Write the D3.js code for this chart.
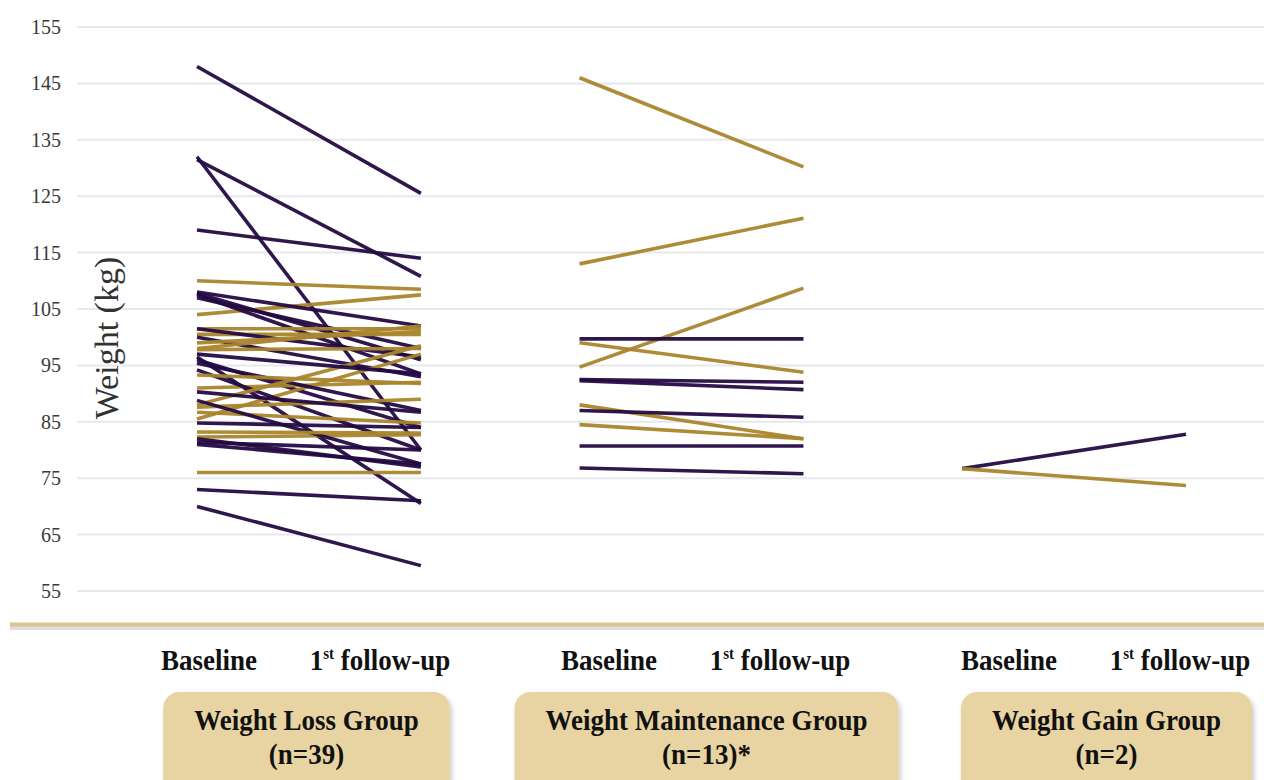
<!DOCTYPE html>
<html>
<head>
<meta charset="utf-8">
<script src="https://cdn.jsdelivr.net/npm/d3@7/dist/d3.min.js"></script>
<style>
  html, body { margin: 0; padding: 0; background: #ffffff; }
  svg { display: block; }
</style>
</head>
<body>
<svg id="chart" width="1264" height="780"></svg>
<script>
// ---------------- DATA ----------------
const groups = ["Weight Loss Group", "Weight Maintenance Group", "Weight Gain Group"];
const groupN = ["(n=39)", "(n=13)*", "(n=2)"];
const timepoints = ["Baseline", "1st follow-up"];
const yTicks = [55, 65, 75, 85, 95, 105, 115, 125, 135, 145, 155];

// Weight Loss Group: baseline, follow-up, colour class (A = purple, B = gold)
const lossBaseline = [148, 131.5, 132, 119, 110, 104, 108, 107.8, 107.5, 107, 101.5, 100.5, 101.5, 100, 98, 97.8, 96.5, 96, 85.5, 91, 95.4, 94.2, 88, 87.6, 90.3, 86.7, 84.8, 82.3, 81.4, 81, 82, 76, 73, 70, 93.3, 99, 97, 88.8, 83.2];
const lossFollowup = [125.5, 110.8, 80, 114, 108.5, 107.5, 102, 96, 93.5, 98, 101.5, 100.5, 96.5, 93, 102, 98, 70.5, 84, 97, 92, 87, 80, 98.5, 89, 86.7, 84.8, 84, 82.7, 80, 77.5, 77, 76, 71, 59.5, 91.8, 101, 93.5, 77.5, 83];
const lossClass    = ["A","A","A","A","B","B","A","A","A","A","B","B","A","A","B","B","A","A","B","B","A","A","B","B","A","B","A","B","A","A","A","B","A","A","B","B","A","A","B"];

// Weight Maintenance Group
const maintBaseline = [146, 113, 94.7, 99.7, 99, 92.5, 92.3, 88, 87, 84.5, 80.7, 76.8];
const maintFollowup = [130.2, 121.1, 108.7, 99.7, 93.8, 92, 90.7, 82, 85.8, 82, 80.7, 75.8];
const maintClass    = ["B","B","B","A","B","A","A","B","A","B","A","A"];

// Weight Gain Group
const gainBaseline = [76.7, 76.7];
const gainFollowup = [82.8, 73.7];
const gainClass    = ["A","B"];

// ---------------- BUILD ----------------
const series = [
  {group: groups[0], base: lossBaseline, fu: lossFollowup, cls: lossClass},
  {group: groups[1], base: maintBaseline, fu: maintFollowup, cls: maintClass},
  {group: groups[2], base: gainBaseline, fu: gainFollowup, cls: gainClass}
];
const lines = [];
series.forEach(s => s.base.forEach((b, i) => lines.push({group: s.group, v: [b, s.fu[i]], cls: s.cls[i]})));

const svg = d3.select("#chart");
const W = 1264;
const FONT = '"Liberation Serif"';
const STRETCH = 1.12; // reference lettering is tall and narrow

const y = d3.scaleLinear().domain([55, 155]).range([591, 27]);

// group positions for the lines
const xGroup = d3.scaleBand().domain(groups).range([197, 1186]).paddingInner(0.4147).paddingOuter(0);
const xTime = d3.scalePoint().domain(timepoints).range([0, xGroup.bandwidth()]);

// group positions for the labels
const xLabelGroup = d3.scaleBand().domain(groups).range([209, 1180]).paddingInner(0.5725).paddingOuter(0);
const xLabelTime = d3.scalePoint().domain(timepoints).range([0, xLabelGroup.bandwidth()]);

const color = d3.scaleOrdinal().domain(["A", "B"]).range(["#240a42", "#a9852c"]);

// defs: shadow
const defs = svg.append("defs");
const f = defs.append("filter").attr("id", "shadow").attr("x", "-10%").attr("y", "-10%").attr("width", "130%").attr("height", "140%");
f.append("feDropShadow").attr("dx", 2).attr("dy", 3).attr("stdDeviation", 2.5).attr("flood-color", "#000").attr("flood-opacity", 0.22);

// gridlines
svg.append("g").selectAll("line").data(yTicks).join("line")
  .attr("x1", 77).attr("x2", W)
  .attr("y1", d => y(d)).attr("y2", d => y(d))
  .attr("stroke", "#e7e7ee").attr("stroke-width", 2);

// y axis labels
const yAxis = svg.append("g").attr("transform", "translate(61,0)")
  .call(d3.axisLeft(y).tickValues(yTicks).tickSize(0).tickPadding(0).tickFormat(d3.format("d")));
yAxis.attr("font-family", null).attr("font-size", null);
yAxis.select(".domain").remove();
yAxis.selectAll("text").style("font-family", FONT).style("font-size", "20px").attr("fill", "#3a3a3a");

// y title
svg.append("text")
  .attr("transform", "translate(118,338) rotate(-90)")
  .attr("text-anchor", "middle")
  .style("font-family", FONT).style("font-size", "34px").attr("fill", "#333")
  .text("Weight (kg)");

// lines
svg.append("g").selectAll("line").data(lines).join("line")
  .attr("x1", d => xGroup(d.group) + xTime(timepoints[0]))
  .attr("x2", d => xGroup(d.group) + xTime(timepoints[1]))
  .attr("y1", d => y(d.v[0]))
  .attr("y2", d => y(d.v[1]))
  .attr("stroke", d => color(d.cls))
  .attr("stroke-width", 3.6)
  .attr("stroke-opacity", 0.95);

// bottom axis bar
svg.append("line").attr("x1", 10).attr("x2", W).attr("y1", 628).attr("y2", 628)
  .attr("stroke", "#cfcfcf").attr("stroke-width", 4).attr("opacity", 0.7);
svg.append("line").attr("x1", 10).attr("x2", W).attr("y1", 624.5).attr("y2", 624.5)
  .attr("stroke", "#dcc48e").attr("stroke-width", 4);

function label(parent, x, yb) {
  return parent.append("text")
    .attr("transform", `translate(${x},${yb}) scale(1,${STRETCH})`)
    .attr("text-anchor", "middle")
    .style("font-family", FONT).style("font-weight", "bold").style("font-size", "27px")
    .attr("fill", "#111");
}

// timepoint labels
const tl = svg.append("g");
groups.forEach(g => {
  timepoints.forEach((t, i) => {
    const tx = label(tl, xLabelGroup(g) + xLabelTime(t), 670);
    if (i === 0) {
      tx.text(t);
    } else {
      tx.append("tspan").text("1");
      tx.append("tspan").style("font-size", "15px").attr("dy", -10).text("st");
      tx.append("tspan").attr("dy", 10).text(" follow-up");
    }
  });
});

// group boxes
const boxG = svg.append("g");
groups.forEach((g, i) => {
  const cx = xLabelGroup(g) + xLabelGroup.bandwidth() / 2 + 12;
  const t1 = label(boxG, cx, 730).text(g);
  const w = t1.node().getComputedTextLength() + 62;
  boxG.insert("rect", "text")
    .attr("x", cx - w / 2).attr("y", 692).attr("width", w).attr("height", 110)
    .attr("rx", 16).attr("ry", 16)
    .attr("fill", "#e8d4a2").attr("filter", "url(#shadow)");
  label(boxG, cx, 764).text(groupN[i]);
});
</script>
</body>
</html>
